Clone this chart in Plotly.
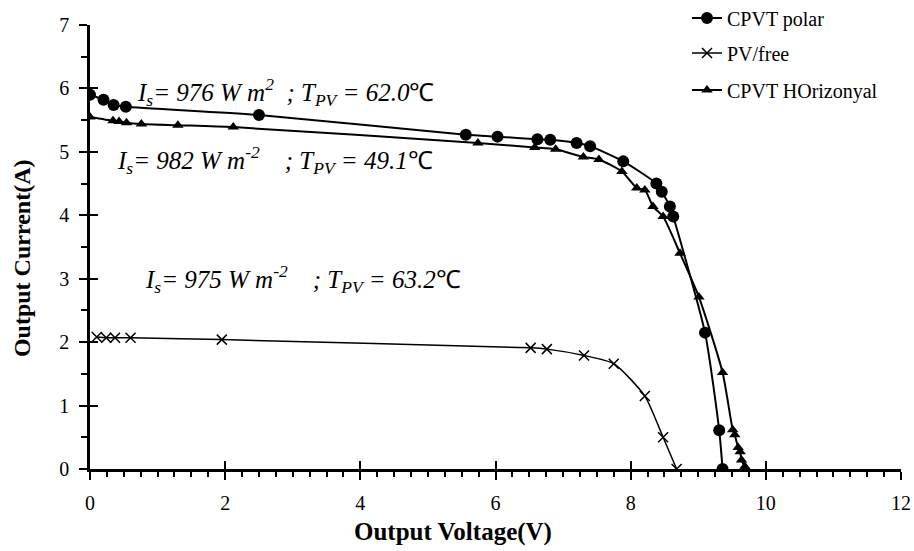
import plotly.graph_objects as go

# CPVT polar (circles)
polar_v = [0.0, 0.2, 0.35, 0.53, 2.5, 5.56, 6.03, 6.62, 6.81, 7.2, 7.4, 7.89, 8.38, 8.46, 8.58, 8.63, 9.1, 9.31, 9.36]
polar_i = [5.90, 5.82, 5.74, 5.71, 5.58, 5.27, 5.24, 5.20, 5.19, 5.14, 5.09, 4.85, 4.50, 4.37, 4.14, 3.98, 2.15, 0.61, 0.0]

# PV/free (crosses)
free_v = [0.1, 0.24, 0.37, 0.6, 1.95, 6.52, 6.76, 7.31, 7.75, 8.21, 8.48, 8.68]
free_i = [2.08, 2.07, 2.07, 2.07, 2.04, 1.91, 1.89, 1.79, 1.66, 1.15, 0.50, 0.0]

# CPVT horizontal (triangles)
horiz_v = [0.0, 0.34, 0.43, 0.54, 0.76, 1.3, 2.12, 5.74, 6.58, 6.89, 7.30, 7.53, 7.87, 8.09, 8.21, 8.33, 8.48,
           8.73, 9.01, 9.36, 9.51, 9.54, 9.59, 9.62, 9.64, 9.69]
horiz_i = [5.55, 5.49, 5.48, 5.46, 5.44, 5.42, 5.39, 5.14, 5.07, 5.04, 4.92, 4.88, 4.69, 4.43, 4.40, 4.14, 3.98,
           3.40, 2.71, 1.52, 0.62, 0.54, 0.34, 0.27, 0.14, 0.04]

series_names = ["CPVT polar", "PV/free", "CPVT HOrizonyal"]

x_title = "Output Voltage(V)"
y_title = "Output Current(A)"

SP = "&nbsp;"
notes = [
    ("<i>I<sub>s</sub>= 976 W m<sup>2</sup>" + SP * 2 + "; T<sub>PV</sub> = 62.0</i>℃", 0.66, 5.95),
    ("<i>I<sub>s</sub>= 982 W m<sup>-2</sup>" + SP * 4 + "; T<sub>PV</sub> = 49.1</i>℃", 0.37, 4.87),
    ("<i>I<sub>s</sub>= 975 W m<sup>-2</sup>" + SP * 4 + "; T<sub>PV</sub> = 63.2</i>℃", 0.79, 3.0),
]

FONT = "Liberation Serif, serif"
fig = go.Figure()

fig.add_trace(go.Scatter(x=polar_v, y=polar_i, name=series_names[0], mode="lines+markers",
                         line=dict(color="black", width=2, shape="spline", smoothing=0.6),
                         marker=dict(symbol="circle", size=12, color="black"), legend="legend"))
fig.add_trace(go.Scatter(x=free_v, y=free_i, name=series_names[1], mode="lines+markers",
                         line=dict(color="black", width=1.5, shape="spline", smoothing=0.6),
                         marker=dict(symbol="x-thin", size=10, line=dict(color="black", width=1.5)),
                         legend="legend2"))
fig.add_trace(go.Scatter(x=horiz_v, y=horiz_i, name=series_names[2], mode="lines+markers",
                         line=dict(color="black", width=2, shape="spline", smoothing=0.6),
                         marker=dict(symbol="triangle-up", size=10, color="black"), legend="legend3"))
# empty trace so the overlay axes (inner half of the crossing major ticks) are drawn
fig.add_trace(go.Scatter(x=[], y=[], xaxis="x2", yaxis="y2", showlegend=False, hoverinfo="skip"))

for txt, x, y in notes:
    fig.add_annotation(x=x, y=y, text=txt, showarrow=False, xanchor="left", yanchor="middle",
                       font=dict(family=FONT, size=25, color="black"))

# axis titles (placed as in the reference)
fig.add_annotation(text="<b>" + x_title + "</b>", xref="paper", yref="paper", x=0.448, y=(469 - 532) / 444,
                   xanchor="center", yanchor="middle", showarrow=False,
                   font=dict(family=FONT, size=25, color="black"))
fig.add_annotation(text="<b>" + y_title + "</b>", xref="paper", yref="paper", x=(22 - 90) / 811, y=0.475,
                   xanchor="center", yanchor="middle", showarrow=False, textangle=-90,
                   font=dict(family=FONT, size=24, color="black"))

axis_common = dict(showgrid=False, zeroline=False, showline=True, linecolor="black", linewidth=2.5,
                   ticks="outside", ticklen=8, tickwidth=2, tickcolor="black", ticklabelstandoff=6,
                   tickfont=dict(family=FONT, size=20, color="black"))

leg = dict(font=dict(family=FONT, size=20, color="black"), bgcolor="rgba(0,0,0,0)",
           xref="container", yref="container", x=687 / 914, xanchor="left", yanchor="middle", itemwidth=30)

fig.update_layout(
    width=914, height=551,
    showlegend=True,
    margin=dict(l=90, r=13, t=25, b=82, autoexpand=False),
    plot_bgcolor="white", paper_bgcolor="white",
    xaxis=dict(range=[0, 12], dtick=2, tick0=0,
               minor=dict(ticks="outside", ticklen=5, tickwidth=1.5, tickcolor="black", dtick=0.25),
               **axis_common),
    yaxis=dict(range=[0, 7], dtick=1, tick0=0,
               minor=dict(ticks="outside", ticklen=6, tickwidth=1.5, tickcolor="black", dtick=0.5),
               **axis_common),
    xaxis2=dict(overlaying="x", matches="x", side="bottom", anchor="y2", showline=False, showgrid=False,
                zeroline=False, ticks="inside", ticklen=8, tickwidth=2, tickcolor="black",
                showticklabels=False, dtick=2, tick0=0, range=[0, 12]),
    yaxis2=dict(overlaying="y", matches="y", side="left", anchor="x2", showline=False, showgrid=False,
                zeroline=False, ticks="inside", ticklen=8, tickwidth=2, tickcolor="black",
                showticklabels=False, dtick=1, tick0=0, range=[0, 7]),
    legend=dict(y=1 - 18 / 551, **leg),
    legend2=dict(y=1 - 53 / 551, **leg),
    legend3=dict(y=1 - 90 / 551, **leg),
)

fig.write_html("out.html", config={"displayModeBar": False},
               post_script="document.body.style.margin='0';")
